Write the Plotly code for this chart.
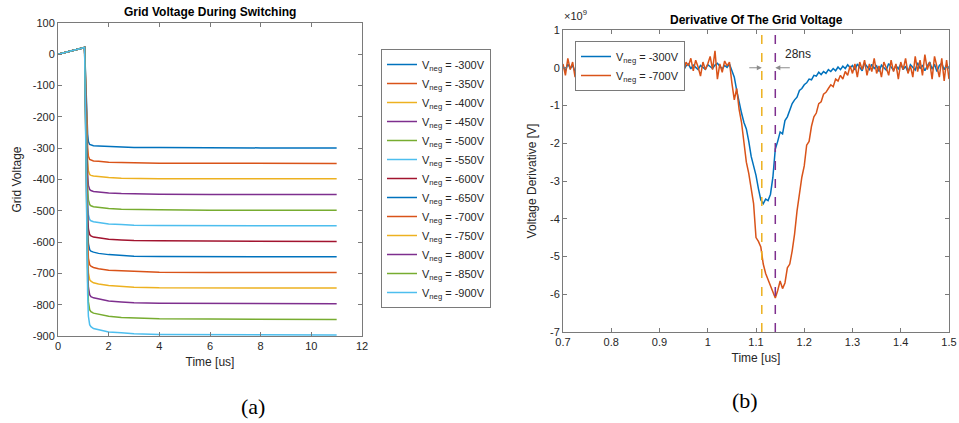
import plotly.graph_objects as go

# ---------------- data: left panel (grid voltage) ----------------
t_sw = [0, 1.05, 1.17, 1.2, 1.25, 1.3, 1.4, 1.6, 2.0, 2.5, 3.0, 4.0, 6.0, 8.0, 11.0]
v_neg_labels = [-300, -350, -400, -450, -500, -550, -600, -650, -700, -750, -800, -850, -900]
v_m300 = [0, 22, -255, -279, -288, -290, -292, -293, -295, -297, -298, -298, -299, -299, -299]
v_m350 = [0, 22, -298, -326, -336, -338, -341, -342, -345, -346, -347, -348, -348, -349, -349]
v_m400 = [0, 22, -340, -372, -384, -387, -389, -391, -394, -396, -397, -398, -398, -398, -398]
v_m450 = [0, 22, -383, -419, -432, -435, -438, -440, -443, -445, -446, -447, -448, -448, -448]
v_m500 = [0, 22, -425, -465, -480, -484, -487, -489, -493, -495, -496, -497, -498, -498, -498]
v_m550 = [0, 22, -468, -512, -528, -532, -535, -538, -542, -544, -546, -547, -547, -548, -548]
v_m600 = [0, 22, -510, -558, -576, -580, -584, -587, -591, -593, -595, -596, -597, -598, -598]
v_m650 = [0, 22, -553, -605, -624, -629, -632, -636, -640, -643, -645, -646, -647, -647, -647]
v_m700 = [0, 22, -595, -651, -672, -677, -681, -685, -690, -692, -694, -696, -697, -697, -697]
v_m750 = [0, 22, -638, -698, -720, -725, -730, -734, -739, -742, -744, -746, -746, -747, -747]
v_m800 = [0, 22, -680, -744, -768, -774, -778, -782, -788, -791, -794, -795, -796, -797, -797]
v_m850 = [0, 22, -723, -791, -816, -822, -827, -831, -837, -841, -843, -845, -846, -847, -847]
v_m900 = [0, 22, -765, -837, -864, -870, -876, -880, -887, -890, -893, -895, -896, -896, -897]
left_series = [v_m300, v_m350, v_m400, v_m450, v_m500, v_m550, v_m600,
               v_m650, v_m700, v_m750, v_m800, v_m850, v_m900]

left_xticks = [0, 2, 4, 6, 8, 10, 12]
left_yticks = [100, 0, -100, -200, -300, -400, -500, -600, -700, -800, -900]

# ---------------- data: right panel (derivative, x1e9) ----------------
t_start, t_step = 0.7, 0.005
dv_m300 = [
    0.05, -0.08, 0.10, -0.02, 0.06, -0.10, 0.04, 0.12, -0.05, 0.02,      # 0.700-0.745
    -0.12, 0.08, 0.00, -0.06, 0.10, 0.03, -0.09, 0.05, -0.02, 0.11,      # 0.750-0.795
    -0.07, 0.04, -0.10, 0.06, 0.01, -0.05, 0.09, -0.03, 0.02, -0.08,     # 0.800-0.845
    0.07, -0.01, 0.05, -0.09, 0.03, 0.10, -0.04, 0.06, -0.07, 0.02,      # 0.850-0.895
    0.08, -0.05, 0.04, -0.02, 0.09, 0.00, 0.06, -0.04, 0.08, 0.02,       # 0.900-0.945
    -0.06, 0.05, 0.10, -0.03, 0.07, 0.01, -0.05, 0.06, 0.02, -0.04,      # 0.950-0.995
    0.08, 0.03, -0.02, 0.07, 0.12, 0.04, -0.03, 0.06, 0.01, 0.10,        # 1.000-1.045
    -0.10, -0.25, -0.60, -0.95, -1.20, -1.45, -1.62, -1.95, -2.35, -2.60,  # 1.050-1.095
    -2.85, -3.20, -3.50, -3.60, -3.48, -3.52, -3.35, -2.90, -2.15, -1.95,  # 1.100-1.145
    -1.70, -1.75, -1.40, -1.30, -1.12, -0.95, -0.85, -0.78, -0.60, -0.55,  # 1.150-1.195
    -0.45, -0.40, -0.30, -0.32, -0.20, -0.22, -0.12, -0.18, -0.10, -0.15,  # 1.200-1.245
    -0.05, -0.10, -0.02, -0.08, 0.02, -0.05, 0.04, -0.02, 0.08, 0.00,      # 1.250-1.295
    0.06, -0.06, 0.10, 0.01, -0.08, 0.12, 0.03, -0.05, 0.09, -0.02,        # 1.300-1.345
    0.05, -0.10, 0.07, 0.00, -0.06, 0.11, 0.02, -0.07, 0.06, -0.03,        # 1.350-1.395
    0.10, -0.05, 0.04, -0.12, 0.08, 0.01, -0.06, 0.13, -0.02, 0.07,        # 1.400-1.445
    -0.08, 0.05, 0.15, -0.04, 0.09, -0.10, 0.06, 0.12, -0.05, 0.08,        # 1.450-1.495
    -0.02,                                                                 # 1.500
]
dv_m700 = [
    0.10, -0.20, 0.25, -0.05, 0.15, -0.25, 0.05, 0.30, -0.15, 0.10,      # 0.700-0.745
    -0.28, 0.20, -0.02, -0.18, 0.22, 0.05, -0.22, 0.15, -0.08, 0.28,     # 0.750-0.795
    -0.12, 0.08, -0.25, 0.18, 0.02, -0.15, 0.20, -0.05, 0.10, -0.50,     # 0.800-0.845
    0.15, -0.10, 0.22, -0.18, 0.05, 0.25, -0.10, 0.12, -0.20, 0.08,      # 0.850-0.895
    0.20, -0.15, 0.10, -0.08, 0.25, -0.05, 0.18, -0.12, 0.10, 0.22,      # 0.900-0.945
    -0.10, 0.15, 0.05, 0.25, -0.08, 0.20, 0.02, -0.22, 0.15, -0.05,      # 0.950-0.995
    0.10, 0.30, -0.05, 0.45, -0.30, 0.10, -0.12, 0.18, 0.05, 0.15,       # 1.000-1.045
    -0.40, -0.85, -0.55, -1.10, -1.45, -2.00, -2.50, -2.80, -3.20, -3.60,  # 1.050-1.095
    -4.50, -4.60, -4.75, -5.20, -5.45, -5.60, -5.75, -5.95, -6.10, -5.90,  # 1.100-1.145
    -5.65, -5.85, -5.70, -5.30, -5.20, -4.85, -4.40, -3.80, -3.30, -2.90,  # 1.150-1.195
    -2.60, -2.05, -1.95, -1.55, -1.30, -1.20, -0.95, -0.90, -0.70, -0.65,  # 1.200-1.245
    -0.55, -0.45, -0.50, -0.30, -0.35, -0.20, -0.30, -0.10, -0.20, 0.05,   # 1.250-1.295
    -0.15, 0.10, -0.25, 0.15, -0.05, 0.20, -0.20, 0.10, -0.10, 0.25,       # 1.300-1.345
    -0.15, 0.05, -0.25, 0.15, 0.00, -0.20, 0.20, -0.10, 0.10, -0.30,       # 1.350-1.395
    0.15, -0.05, 0.25, -0.15, 0.05, -0.25, 0.30, -0.10, 0.20, -0.20,       # 1.400-1.445
    0.35, -0.05, 0.15, -0.30, 0.30, 0.00, -0.25, 0.25, -0.35, 0.20,        # 1.450-1.495
    -0.30,                                                                 # 1.500
]
t_deriv = [round(t_start + i * t_step, 3) for i in range(len(dv_m300))]
right_xticks = [0.7, 0.8, 0.9, 1.0, 1.1, 1.2, 1.3, 1.4, 1.5]
right_yticks = [1, 0, -1, -2, -3, -4, -5, -6, -7]
marker_times = [1.112, 1.140]   # yellow and purple dashed markers
delay_label = "28ns"


def fmt(v):
    s = f"{v:g}"
    return s  # plain hyphen-minus like the original


# ---------------- styling ----------------
mat_colors = ["#0072BD", "#D95319", "#EDB120", "#7E2F8E", "#77AC30", "#4DBEEE", "#A2142F"]
FONT = "Liberation Sans, Arial, sans-serif"
AX_COL = "#7a7a7a"
TXT_COL = "#262626"

fig = go.Figure()

for i, (vn, ys) in enumerate(zip(v_neg_labels, left_series)):
    fig.add_trace(go.Scatter(
        x=t_sw, y=ys, mode="lines",
        line=dict(color=mat_colors[i % 7], width=1.5),
        name=f"V<sub>neg</sub> = {vn}V",
        xaxis="x", yaxis="y", legend="legend",
    ))

fig.add_trace(go.Scatter(x=t_deriv, y=dv_m300, mode="lines",
                         line=dict(color=mat_colors[0], width=1.5),
                         name="V<sub>neg</sub> = -300V",
                         xaxis="x2", yaxis="y2", legend="legend2"))
fig.add_trace(go.Scatter(x=t_deriv, y=dv_m700, mode="lines",
                         line=dict(color=mat_colors[1], width=1.5),
                         name="V<sub>neg</sub> = -700V",
                         xaxis="x2", yaxis="y2", legend="legend2"))

for tm, col in zip(marker_times, [mat_colors[2], mat_colors[3]]):
    fig.add_shape(type="line", xref="x2", yref="y2 domain", x0=tm, x1=tm, y0=0, y1=1,
                  line=dict(color=col, width=1.5, dash="dash"))

# arrows indicating the delay
fig.add_annotation(xref="x2", yref="y2", x=marker_times[0], y=0, ax=-14, ay=0,
                   showarrow=True, arrowhead=2, arrowsize=1, arrowwidth=1, arrowcolor="#8c8c8c", text="")
fig.add_annotation(xref="x2", yref="y2", x=marker_times[1], y=0, ax=16, ay=0,
                   showarrow=True, arrowhead=2, arrowsize=1, arrowwidth=1, arrowcolor="#8c8c8c", text="")
fig.add_annotation(xref="x2", yref="y2", x=marker_times[1], y=0.12, xanchor="left", yanchor="bottom",
                   xshift=8, showarrow=False, text=delay_label,
                   font=dict(family=FONT, size=12, color=TXT_COL))

axis_common = dict(showline=True, linecolor=AX_COL, linewidth=1, mirror="ticks",
                   ticks="inside", ticklen=4, tickcolor=AX_COL, showgrid=False, zeroline=False,
                   automargin=False,
                   tickfont=dict(family=FONT, size=11, color=TXT_COL),
                   title_font=dict(family=FONT, size=12, color=TXT_COL))

fig.update_layout(
    width=959, height=423, margin=dict(l=0, r=0, t=0, b=0),
    paper_bgcolor="white", plot_bgcolor="white", showlegend=True,
    xaxis=dict(domain=[58/959, 362/959], range=[0, 12], anchor="y",
               tickvals=left_xticks, ticktext=[fmt(v) for v in left_xticks],
               title=dict(text="Time [us]", standoff=6), **axis_common),
    yaxis=dict(domain=[1-336/423, 1-23/423], range=[-900, 100], anchor="x",
               tickvals=left_yticks, ticktext=[fmt(v) for v in left_yticks],
               title=dict(text="Grid Voltage", standoff=8), **axis_common),
    xaxis2=dict(domain=[563/959, 949/959], range=[0.7, 1.5], anchor="y2",
                tickvals=right_xticks, ticktext=[fmt(v) for v in right_xticks],
                title=dict(text="Time [us]", standoff=6), **axis_common),
    yaxis2=dict(domain=[1-332/423, 1-30/423], range=[-7, 1], anchor="x2",
                tickvals=right_yticks, ticktext=[fmt(v) for v in right_yticks],
                title=dict(text="Voltage Derivative [V]", standoff=10), **axis_common),
    legend=dict(x=381/959, y=1-49/423, xanchor="left", yanchor="top",
                bordercolor=AX_COL, borderwidth=1, bgcolor="white",
                font=dict(family=FONT, size=11, color=TXT_COL), tracegroupgap=0,
                itemwidth=30),
    legend2=dict(x=575/959, y=1-41/423, xanchor="left", yanchor="top",
                 bordercolor=AX_COL, borderwidth=1, bgcolor="white",
                 font=dict(family=FONT, size=11, color=TXT_COL), tracegroupgap=0,
                 itemwidth=30),
)

# titles, exponent label, captions
fig.add_annotation(xref="paper", yref="paper", x=(58+362)/2/959, y=1-12/423,
                   xanchor="center", yanchor="middle", showarrow=False,
                   text="<b>Grid Voltage During Switching</b>",
                   font=dict(family=FONT, size=12, color="black"))
fig.add_annotation(xref="paper", yref="paper", x=(563+949)/2/959, y=1-20/423,
                   xanchor="center", yanchor="middle", showarrow=False,
                   text="<b>Derivative Of The Grid Voltage</b>",
                   font=dict(family=FONT, size=12, color="black"))
fig.add_annotation(xref="paper", yref="paper", x=562/959, y=1-15/423,
                   xanchor="left", yanchor="middle", showarrow=False,
                   text="×10<sup>9</sup>", font=dict(family=FONT, size=11, color=TXT_COL))
fig.add_annotation(xref="paper", yref="paper", x=253/959, y=1-406/423,
                   xanchor="center", yanchor="middle", showarrow=False,
                   text="(a)", font=dict(family="Liberation Serif, serif", size=22, color="black"))
fig.add_annotation(xref="paper", yref="paper", x=745/959, y=1-400/423,
                   xanchor="center", yanchor="middle", showarrow=False,
                   text="(b)", font=dict(family="Liberation Serif, serif", size=22, color="black"))

fig.write_html("out.html")
